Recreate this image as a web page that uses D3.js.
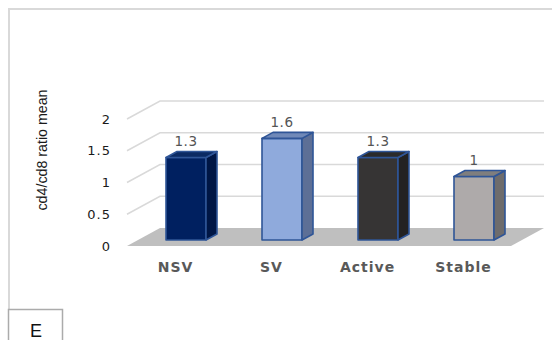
<!DOCTYPE html>
<html>
<head>
<meta charset="utf-8">
<script src="https://cdn.jsdelivr.net/npm/d3@7"></script>
<style>
  html, body { margin: 0; padding: 0; background: #fff; }
  svg { display: block; }
</style>
</head>
<body>
<svg id="chart" width="552" height="340"></svg>
<script>
// CD4/CD8 ratio means by group
const categories = ["NSV", "SV", "Active", "Stable"];
const ratioMeans = [1.3, 1.6, 1.3, 1];
const tickValues = [0, 0.5, 1, 1.5, 2];
const valueLabels = ["1.3", "1.6", "1.3", "1"];

// face colours per bar: front, side, top
const palette = [
  { front: "#002060", side: "#001645", top: "#0B2A63" },
  { front: "#8FAADC", side: "#5D6F96", top: "#7089B8" },
  { front: "#363434", side: "#232222", top: "#2B2A2A" },
  { front: "#AEAAAA", side: "#6E6C6C", top: "#7F7E7E" }
];

const svg = d3.select("#chart");

// frame
svg.append("line").attr("x1", 8).attr("x2", 552).attr("y1", 9).attr("y2", 9)
  .attr("stroke", "#D9D9D9").attr("stroke-width", 2);
svg.append("line").attr("x1", 9).attr("x2", 9).attr("y1", 9).attr("y2", 310)
  .attr("stroke", "#D9D9D9").attr("stroke-width", 2);

// plot geometry: front floor edge and depth vector of the 3-D box
const frontLeft = 127, frontRight = 511, baseY = 246;
const depth = { dx: 33, dy: -18 };

const x = d3.scaleBand().domain(categories).range([frontLeft, frontRight]);
const y = d3.scaleLinear().domain([0, 2]).range([0, 127]);

// project (front x, value, depth fraction) to screen
const P = (fx, v, f) => [fx + f * depth.dx, baseY - y(v) + f * depth.dy];

// floor
svg.append("polygon")
  .attr("points", [P(frontLeft, 0, 0), P(frontRight, 0, 0), P(frontRight, 0, 1), P(frontLeft, 0, 1)].map(p => p.join(",")).join(" "))
  .attr("fill", "#BFBFBF");

// gridlines on side and back wall
const gridG = svg.append("g");
tickValues.filter(v => v > 0).forEach(v => {
  const pts = [P(frontLeft, v, 0), P(frontLeft, v, 1), P(frontRight, v, 1)];
  gridG.append("polyline")
    .attr("points", pts.map(p => p.join(",")).join(" "))
    .attr("fill", "none").attr("stroke", "#D9D9D9").attr("stroke-width", 1.5);
});

// y tick labels
svg.append("g").selectAll("text").data(tickValues).join("text")
  .attr("x", 111).attr("y", d => baseY - y(d) + 4.5)
  .attr("text-anchor", "end")
  .attr("font-family", "DejaVu Sans, sans-serif").attr("font-size", 13)
  .attr("letter-spacing", 1)
  .attr("fill", "#1a1a1a")
  .text(d => d);

// y axis title
svg.append("text")
  .attr("transform", "translate(47,150) rotate(-90)")
  .attr("text-anchor", "middle")
  .attr("font-family", "Liberation Sans, Arial, sans-serif").attr("font-size", 14.5)
  .attr("textLength", 121).attr("lengthAdjust", "spacingAndGlyphs")
  .attr("fill", "#1a1a1a")
  .text("cd4/cd8 ratio mean");

// bars
const barW = 40;
const f0 = 1 / 3, f1 = 2 / 3;
const barsG = svg.append("g");
categories.forEach((c, i) => {
  const v = ratioMeans[i];
  const cx = x(c) + x.bandwidth() / 2;
  const l = cx - barW / 2, r = cx + barW / 2;
  const col = palette[i];
  const poly = (pts, fill) => barsG.append("polygon")
    .attr("points", pts.map(p => p.join(",")).join(" "))
    .attr("fill", fill).attr("stroke", "#2F5597").attr("stroke-width", 1.6)
    .attr("stroke-linejoin", "round");
  // front
  poly([P(l, 0, f0), P(r, 0, f0), P(r, v, f0), P(l, v, f0)], col.front);
  // side
  poly([P(r, 0, f0), P(r, 0, f1), P(r, v, f1), P(r, v, f0)], col.side);
  // top
  poly([P(l, v, f0), P(r, v, f0), P(r, v, f1), P(l, v, f1)], col.top);
  // value label
  const lp = P(cx, v, f0);
  svg.append("text")
    .attr("x", lp[0]).attr("y", lp[1] - 11.5)
    .attr("text-anchor", "middle")
    .attr("font-family", "DejaVu Sans, sans-serif").attr("font-size", 13.5)
    .attr("letter-spacing", 0.5)
    .attr("fill", "#555555")
    .text(valueLabels[i]);
});

// category labels along the front floor edge
svg.append("g").selectAll("text").data(categories).join("text")
  .attr("x", d => x(d) + x.bandwidth() / 2 + 0.5)
  .attr("y", 272)
  .attr("text-anchor", "middle")
  .attr("font-family", "DejaVu Sans, sans-serif").attr("font-size", 14)
  .attr("font-weight", "bold").attr("letter-spacing", 1)
  .attr("fill", "#595959")
  .text(d => d);

// panel letter box
svg.append("rect").attr("x", 8.5).attr("y", 309.5).attr("width", 54).attr("height", 40)
  .attr("fill", "#fff").attr("stroke", "#ABABAB").attr("stroke-width", 1.5);
svg.append("text").attr("x", 36).attr("y", 336.5)
  .attr("text-anchor", "middle")
  .attr("font-family", "Liberation Sans, Arial, sans-serif").attr("font-size", 18)
  .attr("fill", "#111")
  .text("E");
</script>
</body>
</html>
